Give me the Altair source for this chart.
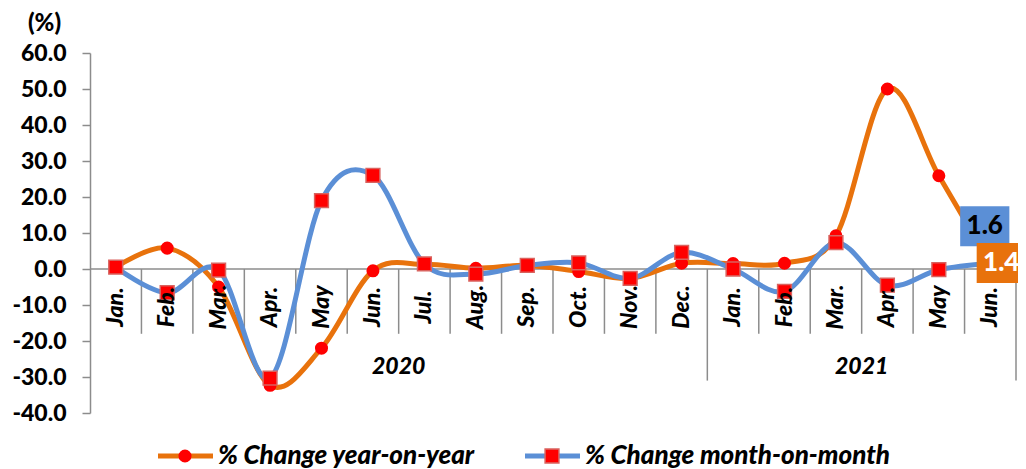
import altair as alt
import pandas as pd

months = ["Jan.", "Feb.", "Mar.", "Apr.", "May", "Jun.", "Jul.", "Aug.", "Sep.", "Oct.", "Nov.", "Dec.",
          "Jan.", "Feb.", "Mar.", "Apr.", "May", "Jun."]
years = ["2020", "2021"]
year_span = [(0, 12), (12, 18)]
yoy = [0.5, 5.8, -5.0, -32.3, -22.0, -0.5, 1.3, 0.2, 1.0, -0.7, -2.6, 1.6, 1.5, 1.6, 9.2, 50.0, 25.9, 1.4]
mom = [0.5, -6.6, -0.3, -30.3, 19.0, 26.0, 1.4, -1.4, 1.0, 1.7, -2.6, 4.6, 0.0, -6.2, 7.3, -4.5, -0.2, 1.6]
series_names = ["% Change year-on-year", "% Change month-on-month"]

ORANGE = "#E8720C"
BLUE = "#5B8FD6"
RED = "#FF0000"
GRAY = "#8C8C8C"
FONT = "Lato"
W = 900

n = len(months)
df = pd.DataFrame({"x": [i + 0.5 for i in range(n)], "month": months, "yoy": yoy, "mom": mom, "zero": 0.0})

xs = alt.Scale(domain=[0, n], nice=False, zero=False)
ys = alt.Scale(domain=[-40, 60], nice=False, zero=False)

yaxis = alt.Axis(values=list(range(-40, 61, 10)),
                 labelExpr="replace(format(datum.value, '.1f'), '\u2212', '-')",
                 labelFont=FONT, labelFontSize=23, labelFontWeight=W, labelColor="black",
                 labelPadding=16, tickSize=8, tickColor=GRAY, tickWidth=1.5,
                 domainColor=GRAY, domainWidth=1.5, grid=False,
                 title="(%)", titleAngle=0, titleX=-46, titleY=-30, titleAlign="center",
                 titleBaseline="middle", titleFont=FONT, titleFontSize=24, titleFontWeight=W,
                 titleColor="black")


def X(f="x"):
    return alt.X(f + ":Q", scale=xs, axis=None)


def Y(f):
    return alt.Y(f + ":Q", scale=ys, axis=yaxis)


base = alt.Chart(df)

# separators
sep_rows = []
for b in range(1, n + 1):
    is_year = b in [e for _, e in year_span]
    sep_rows.append({"x": b, "y": 0.0, "y2": -31.0 if is_year else -18.0})
sep = alt.Chart(pd.DataFrame(sep_rows)).mark_rule(color=GRAY, strokeWidth=1.5).encode(
    x=X(), y=Y("y"), y2="y2:Q")
zero_line = alt.Chart(pd.DataFrame({"x": [0], "x2": [n], "y": [0.0]})).mark_rule(color=GRAY, strokeWidth=1.5).encode(
    x=X(), x2="x2:Q", y=Y("y"))

line_yoy = base.mark_line(interpolate="cardinal", color=ORANGE, strokeWidth=5).encode(x=X(), y=Y("yoy"))
pts_yoy = base.mark_point(shape="circle", filled=True, color=RED, size=170, opacity=1).encode(x=X(), y=Y("yoy"))
line_mom = base.mark_line(interpolate="cardinal", color=BLUE, strokeWidth=5).encode(x=X(), y=Y("mom"))
pts_mom = base.mark_point(shape="square", filled=True, fill=RED, stroke="#D9625E", strokeWidth=1.5,
                          size=190, opacity=1).encode(x=X(), y=Y("mom"))

month_text = base.mark_text(angle=270, align="center", baseline="middle", font=FONT, fontSize=23,
                            fontWeight=W, fontStyle="italic", color="black", yOffset=38).encode(
    x=X(), y=Y("zero"), text="month:N")

ydf = pd.DataFrame({"x": [(a + b) / 2 for a, b in year_span], "year": years, "zero": 0.0})
year_text = alt.Chart(ydf).mark_text(align="center", baseline="middle", font=FONT, fontSize=23,
                                     fontWeight=W, fontStyle="italic", color="black", yOffset=98).encode(
    x=X(), y=Y("zero"), text="year:N")

# data labels for last point
last = pd.DataFrame({"x": [n - 0.5], "yoy": [yoy[-1]], "mom": [mom[-1]],
                     "tyoy": [f"{yoy[-1]:.1f}"], "tmom": [f"{mom[-1]:.1f}"]})
lbase = alt.Chart(last)
box = "M-1.23,-1 L1.23,-1 L1.23,1 L-1.23,1 Z"
connector = lbase.mark_rule(color="black", strokeWidth=1.5, xOffset=-5, yOffset=-15, x2Offset=0, y2Offset=-1).encode(
    x=X(), x2="x:Q", y=Y("mom"), y2="mom:Q")
box_mom = lbase.mark_point(shape=box, filled=True, color=BLUE, size=1600, opacity=1, xOffset=-5.5, yOffset=-37).encode(
    x=X(), y=Y("mom"))
txt_mom = lbase.mark_text(font=FONT, fontSize=26, fontWeight=W, color="black", xOffset=-5.5, yOffset=-37,
                          align="center", baseline="middle").encode(x=X(), y=Y("mom"), text="tmom:N")
box_yoy = lbase.mark_point(shape=box, filled=True, color=ORANGE, size=1600, opacity=1, xOffset=11, yOffset=-1).encode(
    x=X(), y=Y("yoy"))
txt_yoy = lbase.mark_text(font=FONT, fontSize=26, fontWeight=W, color="white", xOffset=11, yOffset=-1,
                          align="center", baseline="middle").encode(x=X(), y=Y("yoy"), text="tyoy:N")

# custom legend
leg_y = 403
leg = []
for name, color, shape, x0 in [(series_names[0], ORANGE, "circle", 68), (series_names[1], BLUE, "square", 435)]:
    ldf = pd.DataFrame({"name": [name]})
    lc = alt.Chart(ldf)
    leg.append(lc.mark_rule(color=color, strokeWidth=5).encode(
        x=alt.value(x0), x2=alt.value(x0 + 55), y=alt.value(leg_y)))
    if shape == "circle":
        leg.append(lc.mark_point(shape="circle", filled=True, color=RED, size=170, opacity=1).encode(
            x=alt.value(x0 + 27), y=alt.value(leg_y)))
    else:
        leg.append(lc.mark_point(shape="square", filled=True, fill=RED, stroke="#D9625E", strokeWidth=1.5,
                                 size=190, opacity=1).encode(x=alt.value(x0 + 27), y=alt.value(leg_y)))
    leg.append(lc.mark_text(align="left", baseline="middle", font=FONT, fontSize=26, fontWeight=W,
                            fontStyle="italic", color="black").encode(
        x=alt.value(x0 + 60), y=alt.value(leg_y), text="name:N"))

chart = alt.layer(sep, zero_line, line_yoy, pts_yoy, line_mom, pts_mom, month_text, year_text,
                  connector, box_mom, txt_mom, box_yoy, txt_yoy, *leg).properties(
    width=926, height=360,
    autosize=alt.AutoSizeParams(type="none"),
    padding={"left": 82, "top": 45, "right": 2, "bottom": 56},
).configure_view(stroke=None)

chart.save("out.html", embed_options={"renderer": "svg", "actions": False})
